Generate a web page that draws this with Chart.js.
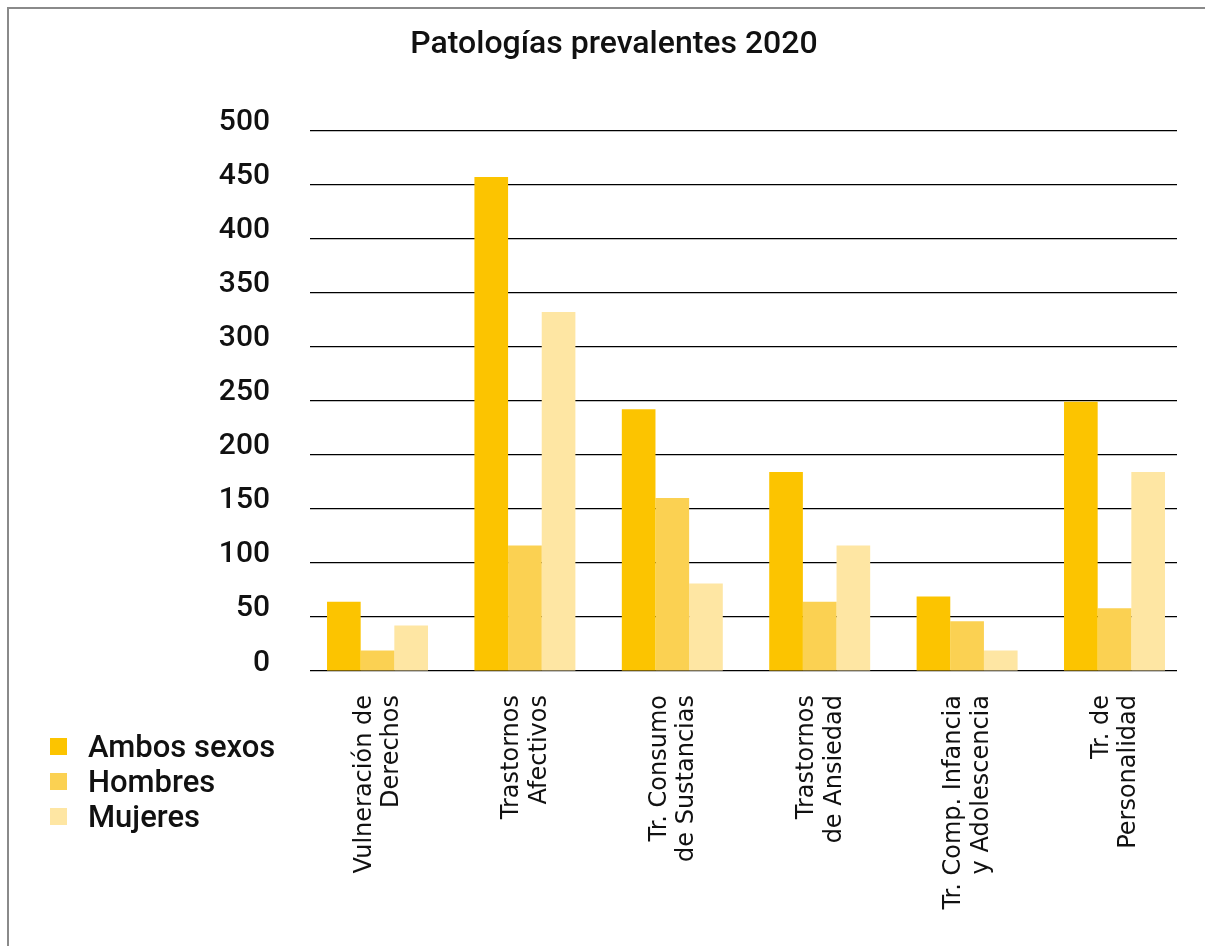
<!DOCTYPE html>
<html lang="es">
<head>
<meta charset="utf-8">
<title>Patologías prevalentes 2020</title>
<script src="https://cdn.jsdelivr.net/npm/chart.js@4.4.1/dist/chart.umd.min.js"></script>
<style>
    html, body { margin: 0; padding: 0; background: #fff; overflow: hidden; }
    #wrap { position: relative; width: 1228px; height: 946px; }
    #frame { position: absolute; left: 7px; top: 7px; width: 1300px; height: 1000px;
             border-left: 2px solid #8a8a8a; border-top: 2px solid #8a8a8a; }
    #myChart { position: absolute; left: 0; top: 0; }
    #legend { position: absolute; left: 50px; top: 729px; font-family: Roboto, sans-serif;
              font-size: 31px; font-weight: 500; color: #111; }
    #legend .row { display: flex; align-items: center; height: 35px; }
    #legend .box { width: 17px; height: 17px; margin-right: 21px; }
</style>
</head>
<body>
<div id="wrap">
    <div id="frame"></div>
    <canvas id="myChart" width="1228" height="946"></canvas>
    <div id="legend"></div>
</div>
<script>
const categories = [
    ['Vulneración de', 'Derechos'],
    ['Trastornos', 'Afectivos'],
    ['Tr. Consumo', 'de Sustancias'],
    ['Trastornos', 'de Ansiedad'],
    ['Tr. Comp. Infancia', 'y Adolescencia'],
    ['Tr. de', 'Personalidad']
];
const seriesNames = ['Ambos sexos', 'Hombres', 'Mujeres'];
const ambos   = [64, 457, 242, 184, 69, 249];
const hombres = [19, 116, 160, 64, 46, 58];
const mujeres = [42, 332, 81, 116, 19, 184];
const yTicks = [0, 50, 100, 150, 200, 250, 300, 350, 400, 450, 500];

const colors = ['#FCC400', '#FBD152', '#FEE6A3'];

function toPoints(arr) {
    return arr.map((v, i) => ({ x: i, y: v }));
}

const data = {
    datasets: [ambos, hombres, mujeres].map((arr, k) => ({
        label: seriesNames[k],
        data: toPoints(arr),
        backgroundColor: colors[k],
        borderWidth: 0,
        categoryPercentage: 0.685,
        barPercentage: 1
    }))
};

const config = {
    type: 'bar',
    data: data,
    options: {
        responsive: false,
        animation: false,
        layout: { padding: { left: 51, right: 51, top: 0, bottom: 0 } },
        plugins: {
            legend: { display: false },
            tooltip: { enabled: false },
            title: {
                display: true,
                text: 'Patologías prevalentes 2020',
                color: '#111',
                font: { family: 'Roboto', size: 32, weight: '500' },
                padding: { top: 26, bottom: 66 }
            }
        },
        scales: {
            x: {
                type: 'linear',
                min: -0.458,
                max: 5.424,
                offset: false,
                bounds: 'data',
                grid: { display: false },
                border: { display: false },
                // one tick per category, at its index
                afterBuildTicks: s => { s.ticks = categories.map((c, i) => ({ value: i })); },
                ticks: {
                    autoSkip: false,
                    minRotation: 90,
                    maxRotation: 90,
                    padding: 16,
                    labelOffset: -13,
                    color: '#111',
                    font: { family: 'DejaVu Sans', size: 24, lineHeight: 1.15 },
                    callback: v => categories[Math.round(v)] || ''
                },
                afterFit: s => { s.height = 275; }
            },
            y: {
                min: 0,
                max: 500,
                grid: { color: '#000', lineWidth: 1.2, drawTicks: false },
                border: { display: false },
                afterBuildTicks: s => { s.ticks = yTicks.map(v => ({ value: v })); },
                ticks: {
                    padding: 40,
                    labelOffset: -8,
                    color: '#111',
                    font: { family: 'Roboto', size: 30, weight: '500' }
                },
                afterFit: s => { s.width = 259; }
            }
        }
    }
};

const myChart = new Chart(document.getElementById('myChart'), config);

// legend on the left, built from the same series names and colours
const legend = document.getElementById('legend');
seriesNames.forEach((name, k) => {
    const row = document.createElement('div');
    row.className = 'row';
    const box = document.createElement('span');
    box.className = 'box';
    box.style.background = colors[k];
    row.appendChild(box);
    row.appendChild(document.createTextNode(name));
    legend.appendChild(row);
});
</script>
</body>
</html>
